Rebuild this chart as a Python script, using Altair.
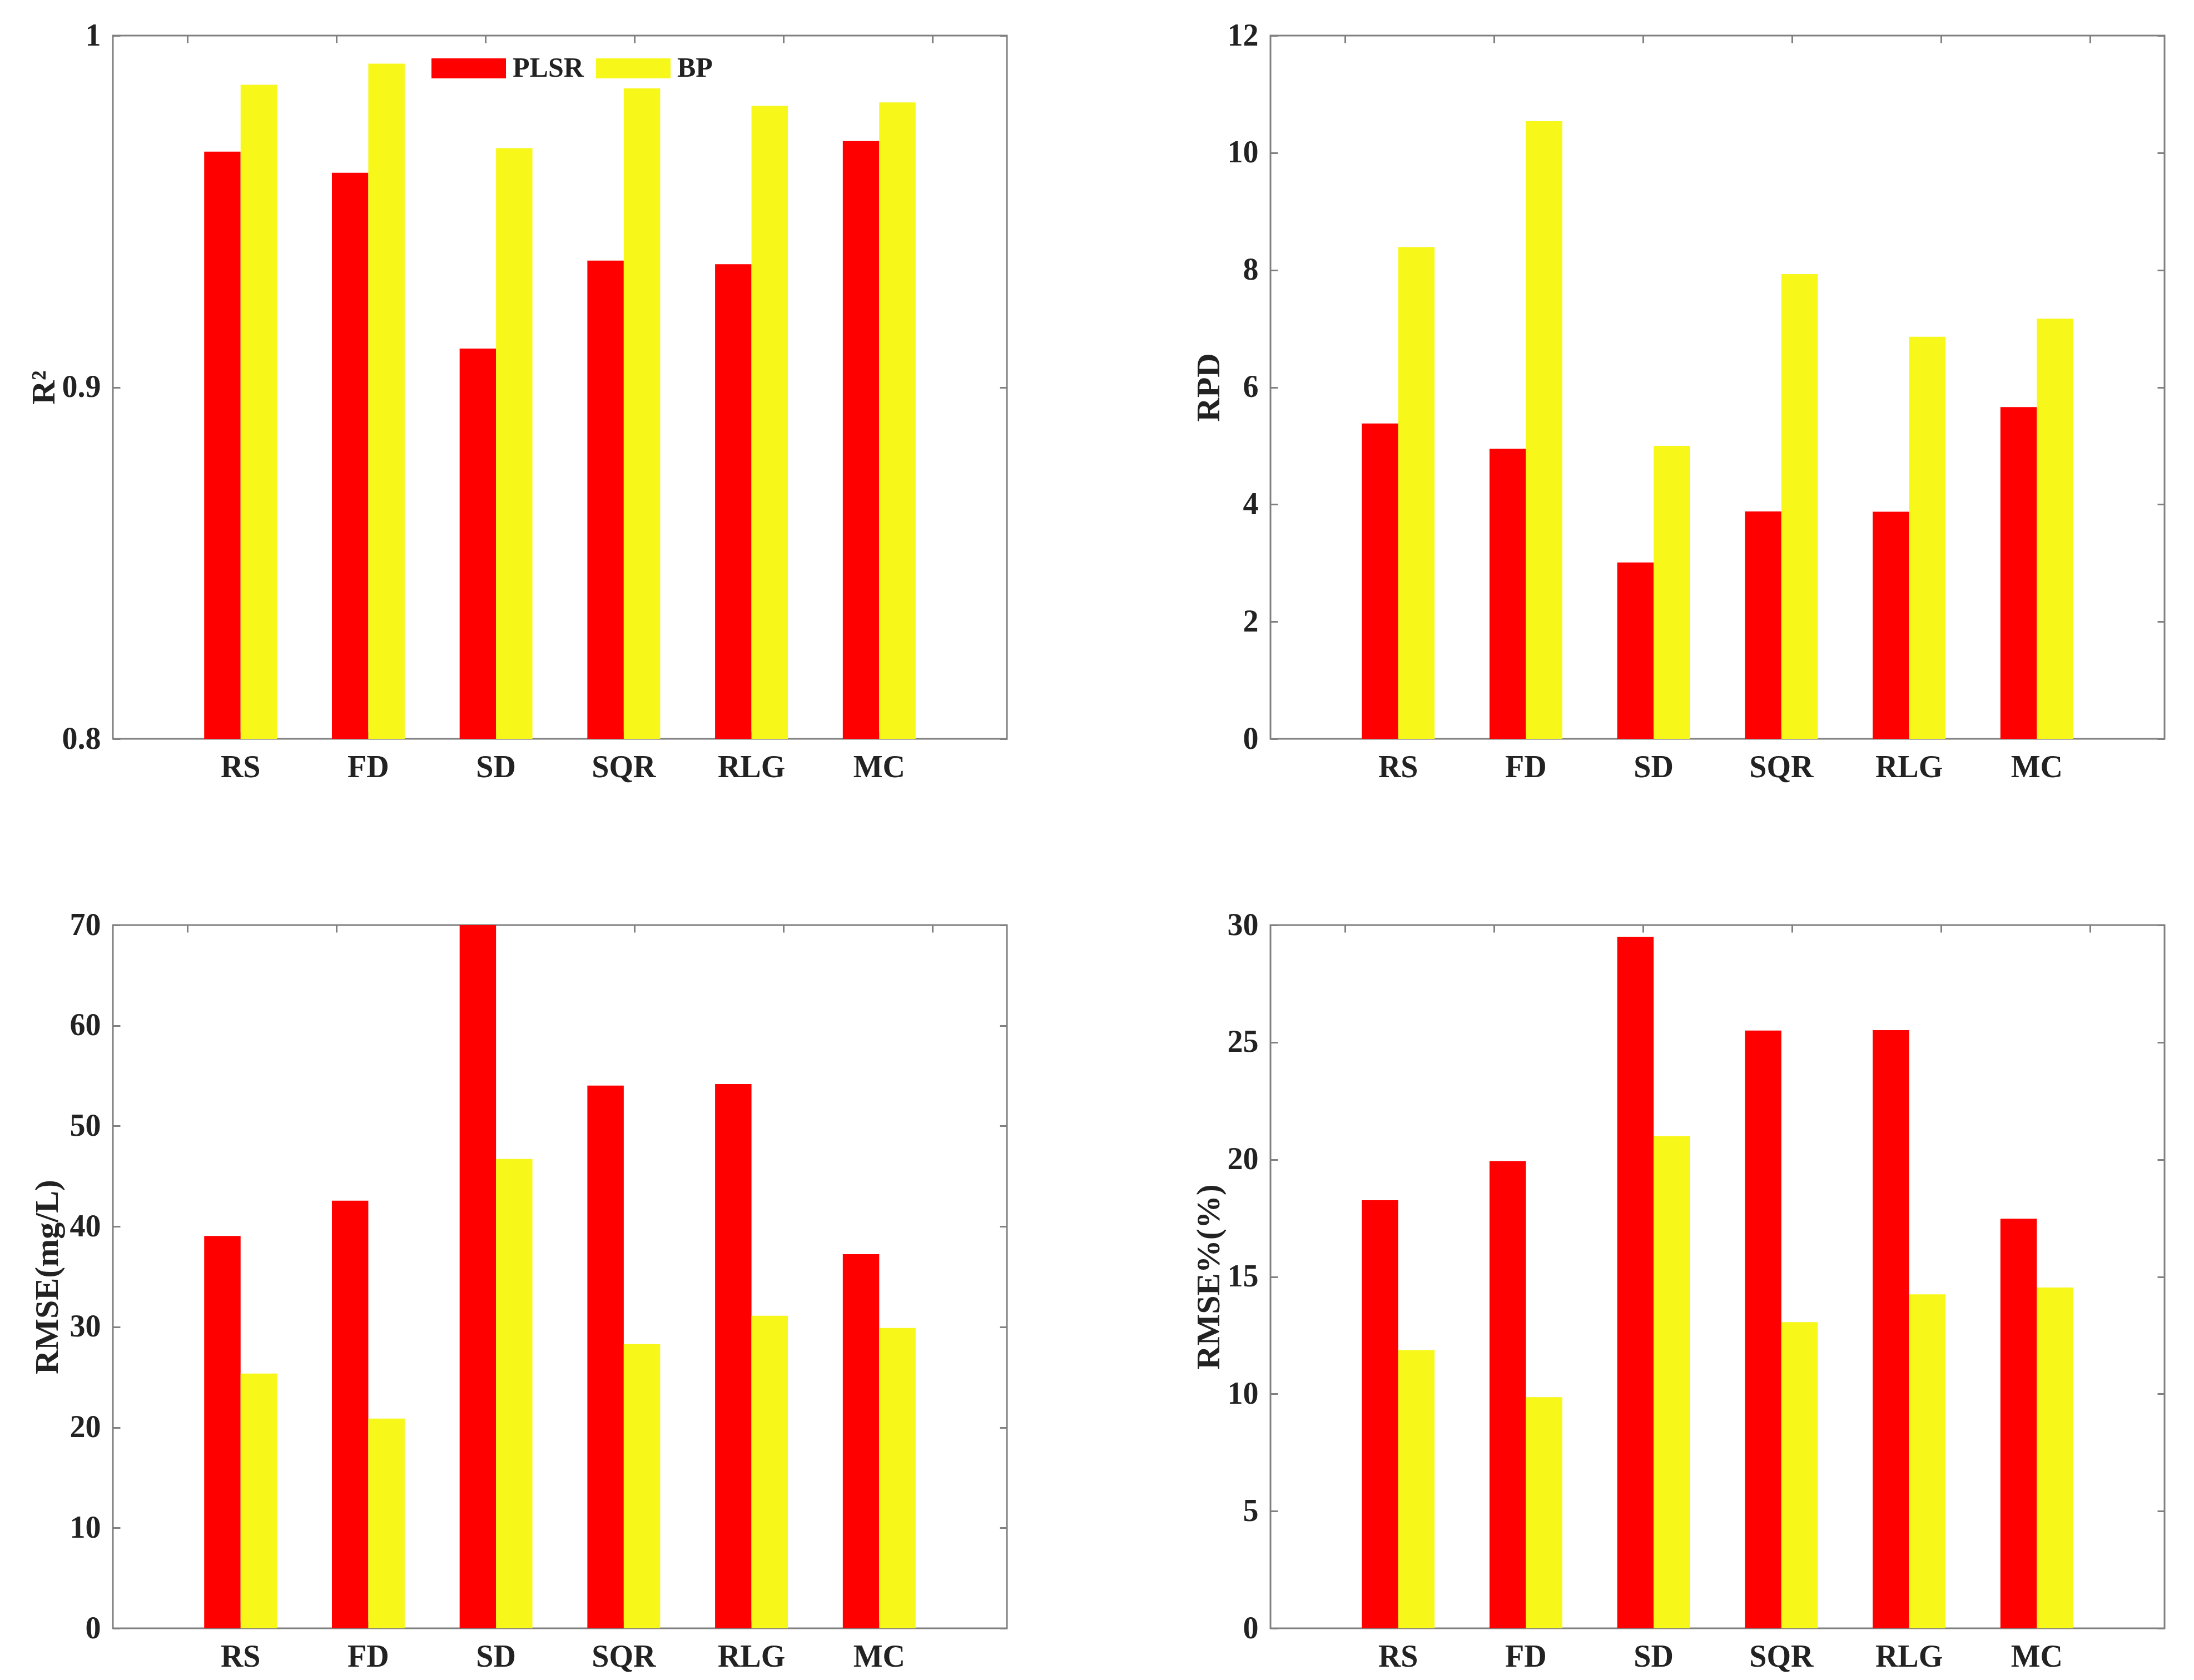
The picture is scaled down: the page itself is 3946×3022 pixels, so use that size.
import altair as alt
import pandas as pd

# ---------------- data ----------------
methods = ["RS", "FD", "SD", "SQR", "RLG", "MC"]
models = ["PLSR", "BP"]
colors = ["#FF0000", "#F7F719"]

r2_plsr = [0.967, 0.961, 0.911, 0.936, 0.935, 0.970]
r2_bp = [0.986, 0.992, 0.968, 0.985, 0.980, 0.981]

rpd_plsr = [5.38, 4.95, 3.01, 3.88, 3.875, 5.66]
rpd_bp = [8.39, 10.54, 5.00, 7.93, 6.86, 7.17]

rmse_plsr = [39.05, 42.57, 70.0, 54.02, 54.18, 37.24]
rmse_bp = [25.36, 20.88, 46.72, 28.29, 31.11, 29.89]

rmsep_plsr = [18.26, 19.93, 29.5, 25.5, 25.52, 17.47]
rmsep_bp = [11.87, 9.86, 21.0, 13.06, 14.25, 14.54]

r2_ticks = [0.8, 0.9, 1.0]
rpd_ticks = [0, 2, 4, 6, 8, 10, 12]
rmse_ticks = [0, 10, 20, 30, 40, 50, 60, 70]
rmsep_ticks = [0, 5, 10, 15, 20, 25, 30]

# ---------------- style ----------------
W, H = 1608, 1265
T = 13            # inward tick length
FONT = "Liberation Serif"
TXT = "#222222"
GRAY = "#808080"
LEG_PATH = "M-1,-0.27H1V0.27H-1Z"


def make_df(plsr, bp):
    rows = []
    for m, a, b in zip(methods, plsr, bp):
        rows.append({"method": m, "model": "PLSR", "value": a})
        rows.append({"method": m, "model": "BP", "value": b})
    return pd.DataFrame(rows)


def panel(plsr, bp, title, domain, ticks, fmt, title_dist, show_legend):
    df = make_df(plsr, bp)
    xscale = alt.Scale(domain=methods, paddingInner=0.43, paddingOuter=0.715)
    yscale = alt.Scale(domain=domain, nice=False, zero=False)
    common_tick = dict(tickSize=T, offset=-T, tickColor=GRAY, tickWidth=3,
                       domain=False, grid=False)
    if show_legend:
        legend = alt.Legend(orient="none", legendX=573, legendY=-8,
                            direction="horizontal", title=None,
                            symbolType=LEG_PATH, symbolSize=134 * 134,
                            symbolStrokeWidth=0, symbolOpacity=1,
                            labelFont=FONT, labelFontSize=50,
                            labelFontWeight="bold", labelColor=TXT,
                            labelOffset=12, columnPadding=22, padding=0)
    else:
        legend = None

    bars = alt.Chart(df).mark_bar(clip=True).encode(
        x=alt.X("method:N", sort=methods, scale=xscale,
                axis=alt.Axis(orient="bottom", title=None, labelAngle=0,
                              labelPadding=24, labelFont=FONT,
                              labelFontSize=56, labelFontWeight="bold",
                              labelColor=TXT, bandPosition=0.5,
                              **common_tick)),
        xOffset=alt.XOffset("model:N", sort=models,
                            scale=alt.Scale(domain=models, paddingInner=0,
                                            paddingOuter=0)),
        y=alt.Y("value:Q", scale=yscale,
                axis=alt.Axis(orient="left", values=ticks, format=fmt,
                              labelPadding=22, labelFont=FONT,
                              labelFontSize=56, labelFontWeight="bold",
                              labelColor=TXT, title=title,
                              titleFont=FONT, titleFontSize=60,
                              titleFontWeight="bold", titleColor=TXT,
                              titleAngle=270, titleBaseline="middle",
                              titleAlign="center",
                              titleX=-(title_dist + T), titleY=H / 2,
                              **common_tick)),
        color=alt.Color("model:N", sort=models,
                        scale=alt.Scale(domain=models, range=colors),
                        legend=legend),
    )

    frame = alt.Chart(df).mark_point(opacity=0).encode(
        x=alt.X("method:N", sort=methods, scale=xscale,
                axis=alt.Axis(orient="top", title=None, labels=False,
                              bandPosition=0.5, **common_tick)),
        y=alt.Y("value:Q", scale=yscale,
                axis=alt.Axis(orient="right", title=None, labels=False,
                              values=ticks, **common_tick)),
    )

    return alt.layer(bars, frame).resolve_scale(
        x="independent", y="independent"
    ).properties(width=W, height=H)


p1 = panel(r2_plsr, r2_bp, "R²", [0.8, 1.0], r2_ticks, "~g", 124, True)
p2 = panel(rpd_plsr, rpd_bp, "RPD", [0, 12], rpd_ticks, "d", 111, False)
p3 = panel(rmse_plsr, rmse_bp, "RMSE(mg/L)", [0, 70], rmse_ticks, "d", 118, False)
p4 = panel(rmsep_plsr, rmsep_bp, "RMSE%(%)", [0, 30], rmsep_ticks, "d", 111, False)

chart = alt.concat(p1, p2, p3, p4, columns=2,
                   spacing={"row": 224, "column": 328}).resolve_scale(
    color="independent"
).resolve_legend(color="independent").configure(
    padding={"left": 39, "top": 26, "right": 10, "bottom": 10},
    background="white",
).configure_view(stroke=GRAY, strokeWidth=3)

chart.save("out.html", embed_options={"renderer": "svg", "actions": False})
